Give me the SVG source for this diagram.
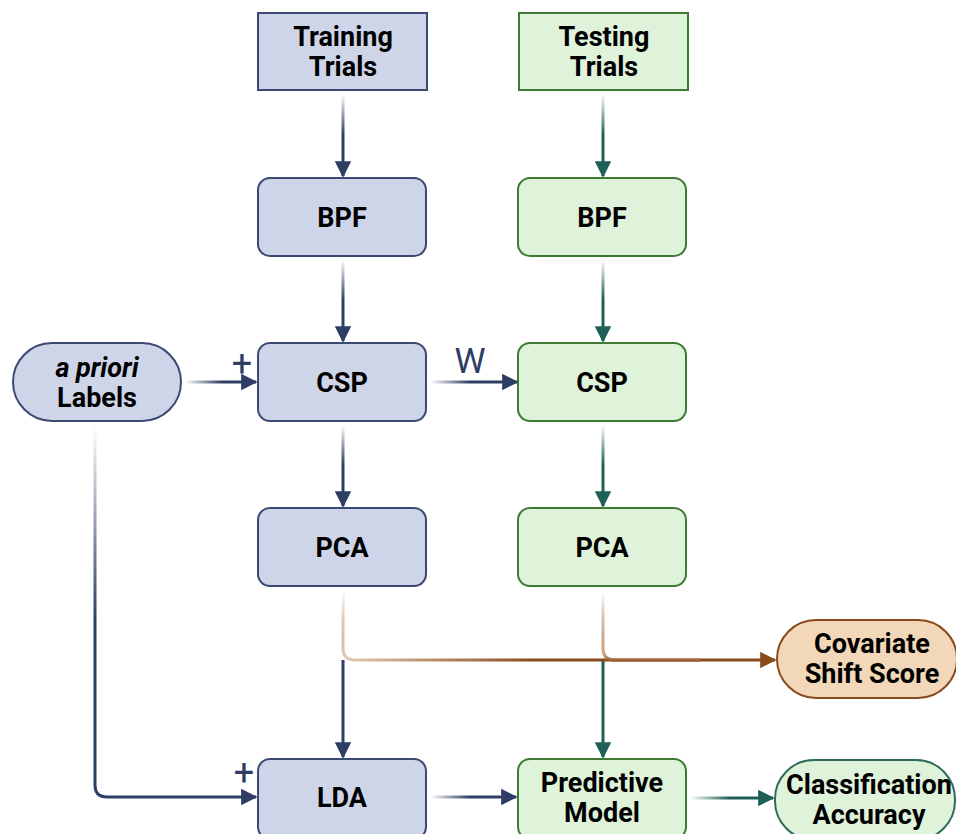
<svg xmlns="http://www.w3.org/2000/svg" width="956" height="834" viewBox="0 0 956 834">
<defs>
<style>
text{font-family:Roboto,"Liberation Sans",sans-serif;font-weight:bold;font-size:27px;fill:#000;text-anchor:middle}
.tr{fill:#cfd5e8;stroke:#3c4a73;stroke-width:2}
.te{fill:#dff2da;stroke:#3f7a35;stroke-width:2}
.cv{fill:#f2d7b8;stroke:#8a4a1c;stroke-width:2}
.ca{fill:#dff2da;stroke:#2e6b5a;stroke-width:2}
.c{fill:none;stroke-width:3}
text.lab{font-weight:normal;fill:#2e3d64}
text.plus{font-size:36px}
text.w{font-size:35px}
</style>
<marker id="an" viewBox="0 0 10 10" refX="9" refY="5" markerWidth="5.5" markerHeight="5.5" markerUnits="strokeWidth" orient="auto"><path d="M0,0L10,5L0,10z" fill="#2e3d64"/></marker>
<marker id="at" viewBox="0 0 10 10" refX="9" refY="5" markerWidth="5.5" markerHeight="5.5" markerUnits="strokeWidth" orient="auto"><path d="M0,0L10,5L0,10z" fill="#1f5f55"/></marker>
<marker id="ab" viewBox="0 0 10 10" refX="9" refY="5" markerWidth="5.5" markerHeight="5.5" markerUnits="strokeWidth" orient="auto"><path d="M0,0L10,5L0,10z" fill="#8a4a1c"/></marker>
<linearGradient id="gn1" gradientUnits="userSpaceOnUse" x1="0" y1="94" x2="0" y2="135"><stop offset="0" stop-color="#2e3d64" stop-opacity="0"/><stop offset="1" stop-color="#2e3d64"/></linearGradient>
<linearGradient id="gt1" gradientUnits="userSpaceOnUse" x1="0" y1="94" x2="0" y2="135"><stop offset="0" stop-color="#1f5f55" stop-opacity="0"/><stop offset="1" stop-color="#1f5f55"/></linearGradient>
<linearGradient id="gn2" gradientUnits="userSpaceOnUse" x1="0" y1="260" x2="0" y2="300"><stop offset="0" stop-color="#2e3d64" stop-opacity="0"/><stop offset="1" stop-color="#2e3d64"/></linearGradient>
<linearGradient id="gt2" gradientUnits="userSpaceOnUse" x1="0" y1="260" x2="0" y2="300"><stop offset="0" stop-color="#1f5f55" stop-opacity="0"/><stop offset="1" stop-color="#1f5f55"/></linearGradient>
<linearGradient id="gn3" gradientUnits="userSpaceOnUse" x1="0" y1="425" x2="0" y2="465"><stop offset="0" stop-color="#2e3d64" stop-opacity="0"/><stop offset="1" stop-color="#2e3d64"/></linearGradient>
<linearGradient id="gt3" gradientUnits="userSpaceOnUse" x1="0" y1="425" x2="0" y2="465"><stop offset="0" stop-color="#1f5f55" stop-opacity="0"/><stop offset="1" stop-color="#1f5f55"/></linearGradient>
<linearGradient id="gh1" gradientUnits="userSpaceOnUse" x1="185" y1="0" x2="222" y2="0"><stop offset="0" stop-color="#2e3d64" stop-opacity="0"/><stop offset="1" stop-color="#2e3d64"/></linearGradient>
<linearGradient id="gh2" gradientUnits="userSpaceOnUse" x1="430" y1="0" x2="470" y2="0"><stop offset="0" stop-color="#2e3d64" stop-opacity="0"/><stop offset="1" stop-color="#2e3d64"/></linearGradient>
<linearGradient id="gh4" gradientUnits="userSpaceOnUse" x1="690" y1="0" x2="730" y2="0"><stop offset="0" stop-color="#1f5f55" stop-opacity="0"/><stop offset="1" stop-color="#1f5f55"/></linearGradient>
<linearGradient id="glab" gradientUnits="userSpaceOnUse" x1="0" y1="425" x2="0" y2="620"><stop offset="0" stop-color="#2e3d64" stop-opacity="0"/><stop offset="1" stop-color="#2e3d64"/></linearGradient>
<linearGradient id="gb1" gradientUnits="userSpaceOnUse" x1="343" y1="592" x2="530" y2="666"><stop offset="0" stop-color="#8a4a1c" stop-opacity="0"/><stop offset="0.13" stop-color="#e3cbb3"/><stop offset="1" stop-color="#8a4a1c"/></linearGradient>
<linearGradient id="gb2" gradientUnits="userSpaceOnUse" x1="603" y1="592" x2="603" y2="662"><stop offset="0" stop-color="#8a4a1c" stop-opacity="0"/><stop offset="0.9" stop-color="#c9a27f"/><stop offset="1" stop-color="#8a4a1c"/></linearGradient>
</defs>
<g id="connectors">
<line class="c" x1="343" y1="94" x2="343" y2="176" stroke="url(#gn1)" marker-end="url(#an)"/>
<line class="c" x1="603" y1="94" x2="603" y2="176" stroke="url(#gt1)" marker-end="url(#at)"/>
<line class="c" x1="343" y1="260" x2="343" y2="341" stroke="url(#gn2)" marker-end="url(#an)"/>
<line class="c" x1="603" y1="260" x2="603" y2="341" stroke="url(#gt2)" marker-end="url(#at)"/>
<line class="c" x1="343" y1="425" x2="343" y2="506" stroke="url(#gn3)" marker-end="url(#an)"/>
<line class="c" x1="603" y1="425" x2="603" y2="506" stroke="url(#gt3)" marker-end="url(#at)"/>
<line class="c" x1="185" y1="382" x2="256" y2="382" stroke="url(#gh1)" marker-end="url(#an)"/>
<line class="c" x1="430" y1="382" x2="517" y2="382" stroke="url(#gh2)" marker-end="url(#an)"/>
<line class="c" x1="343" y1="660" x2="343" y2="757" stroke="#2e3d64" marker-end="url(#an)"/>
<line class="c" x1="603" y1="660" x2="603" y2="757" stroke="#1f5f55" marker-end="url(#at)"/>
<path class="c" d="M343,592V648Q343,660 355,660H775" stroke="url(#gb1)" marker-end="url(#ab)"/>
<path class="c" d="M603,592V648Q603,660 615,660H700" stroke="url(#gb2)"/>
<path class="c" d="M95,425V785Q95,797 107,797H256" stroke="url(#glab)" marker-end="url(#an)"/>
<line class="c" x1="430" y1="797" x2="516" y2="797" stroke="url(#gh2)" marker-end="url(#an)"/>
<line class="c" x1="690" y1="798" x2="773" y2="798" stroke="url(#gh4)" marker-end="url(#at)"/>
<text class="lab plus" x="242" y="376">+</text>
<text class="lab plus" x="244" y="785">+</text>
<text class="lab w" x="470" y="373">W</text>
</g>
<g id="training-trials"><rect class="tr" x="258" y="13" width="169" height="77"/><text x="343" y="46">Training</text><text x="343" y="76">Trials</text></g>
<g id="testing-trials"><rect class="te" x="519" y="13" width="169" height="77"/><text x="604" y="46">Testing</text><text x="604" y="76">Trials</text></g>
<g id="bpf-train"><rect class="tr" x="258" y="178" width="168" height="78" rx="12"/><text x="342" y="227">BPF</text></g>
<g id="bpf-test"><rect class="te" x="518" y="178" width="168" height="78" rx="12"/><text x="602" y="227">BPF</text></g>
<g id="csp-train"><rect class="tr" x="258" y="343" width="168" height="78" rx="12"/><text x="342" y="392">CSP</text></g>
<g id="csp-test"><rect class="te" x="518" y="343" width="168" height="78" rx="12"/><text x="602" y="392">CSP</text></g>
<g id="pca-train"><rect class="tr" x="258" y="508" width="168" height="78" rx="12"/><text x="342" y="557">PCA</text></g>
<g id="pca-test"><rect class="te" x="518" y="508" width="168" height="78" rx="12"/><text x="602" y="557">PCA</text></g>
<g id="lda"><rect class="tr" x="258" y="759" width="168" height="80" rx="12"/><text x="342" y="807">LDA</text></g>
<g id="predictive-model"><rect class="te" x="518" y="759" width="168" height="80" rx="12"/><text x="602" y="792">Predictive</text><text x="602" y="822">Model</text></g>
<g id="a-priori-labels"><rect class="tr" x="13" y="343" width="168" height="78" rx="39"/><text x="97" y="377" font-style="italic">a priori</text><text x="97" y="407">Labels</text></g>
<g id="covariate-shift-score"><rect class="cv" x="777" y="620" width="180" height="78" rx="39"/><text x="872" y="653">Covariate</text><text x="872" y="683">Shift Score</text></g>
<g id="classification-accuracy"><rect class="ca" x="775" y="760" width="180" height="80" rx="39"/><text x="869" y="794">Classification</text><text x="869" y="824">Accuracy</text></g>
</svg>
